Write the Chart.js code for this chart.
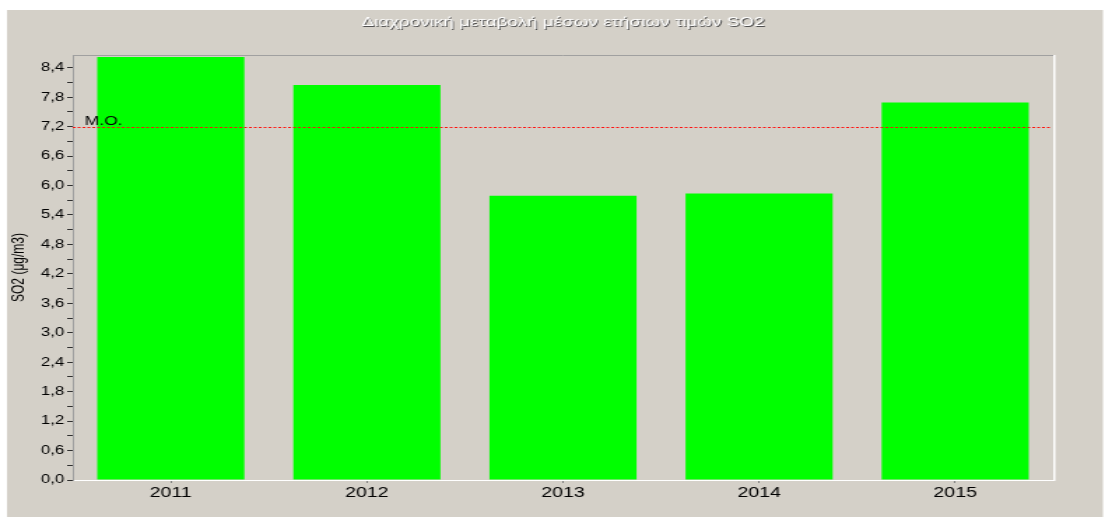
<!DOCTYPE html>
<html>
<head>
<meta charset="utf-8">
<title>SO2</title>
<script src="https://cdn.jsdelivr.net/npm/chart.js@4.4.0/dist/chart.umd.min.js"></script>
<style>
  html, body { margin: 0; padding: 0; background: #fff; }
</style>
</head>
<body>
<!-- the source picture is stretched sideways, so the canvas is too -->
<canvas id="chart" width="790" height="517" style="display:block;width:1105px;height:517px"></canvas>
<script>
const years = ['2011', '2012', '2013', '2014', '2015'];
const so2Values = [8.62, 8.05, 5.79, 5.84, 7.69];
const yMin = 0;
const yMax = 8.66;
const yStep = 0.3;       // minor ticks
const yLabelStep = 0.6;  // labelled ticks
const chartTitle = 'Διαχρονική μεταβολή μέσων ετήσιων τιμών SO2';
const yTitle = 'SO2 (μg/m3)';
const meanLabel = 'Μ.Ο.';

const meanValue = so2Values.reduce((a, b) => a + b, 0) / so2Values.length;
const fontFamily = '"Liberation Sans", Arial, sans-serif';

Chart.defaults.font.family = fontFamily;

const onStep = (value, step) => Math.abs(value / step - Math.round(value / step)) < 1e-6;

const panelPlugin = {
  id: 'panel',
  beforeDraw(chart) {
    const ctx = chart.ctx;
    const area = chart.chartArea;
    ctx.save();
    ctx.fillStyle = '#ffffff';
    ctx.fillRect(0, 0, chart.width, chart.height);
    ctx.fillStyle = '#d4d0c8';
    ctx.fillRect(5, 10, chart.width - 6.5, chart.height - 10);

    // embossed title
    const cx = (area.left + area.right) / 2;
    ctx.font = '13.5px ' + fontFamily;
    ctx.textAlign = 'center';
    ctx.textBaseline = 'middle';
    ctx.fillStyle = '#505050';
    ctx.fillText(chartTitle, cx + 0.8, 23);
    ctx.fillStyle = '#ffffff';
    ctx.fillText(chartTitle, cx, 22);
    ctx.restore();
  },
  afterDatasetsDraw(chart) {
    const ctx = chart.ctx;
    const area = chart.chartArea;
    const y = Math.round(chart.scales.y.getPixelForValue(meanValue)) + 0.5;
    ctx.save();
    ctx.strokeStyle = '#ff1010';
    ctx.lineWidth = 1;
    ctx.setLineDash([2, 1.5]);
    ctx.beginPath();
    ctx.moveTo(area.left, y);
    ctx.lineTo(area.right - 2, y);
    ctx.stroke();
    ctx.setLineDash([]);
    ctx.font = '12.5px ' + fontFamily;
    ctx.fillStyle = '#000';
    ctx.textAlign = 'left';
    ctx.textBaseline = 'alphabetic';
    ctx.fillText(meanLabel, area.left + 8.5, y - 3);

    // sunken frame: grey top, white right
    ctx.strokeStyle = '#a0a0a0';
    ctx.lineWidth = 1;
    ctx.beginPath();
    ctx.moveTo(area.left, area.top + 0.5);
    ctx.lineTo(area.right, area.top + 0.5);
    ctx.stroke();
    ctx.strokeStyle = '#ffffff';
    ctx.lineWidth = 1.5;
    ctx.beginPath();
    ctx.moveTo(area.right + 0.75, area.top);
    ctx.lineTo(area.right + 0.75, area.bottom + 1);
    ctx.stroke();
    ctx.restore();
  }
};

new Chart(document.getElementById('chart'), {
  type: 'bar',
  data: {
    labels: years,
    datasets: [{
      label: 'SO2',
      data: so2Values,
      backgroundColor: '#00ff00',
      borderWidth: 0,
      barPercentage: 0.75,
      categoryPercentage: 1
    }]
  },
  options: {
    responsive: false,
    devicePixelRatio: 1,
    animation: false,
    layout: { padding: { top: 55, right: 37, bottom: 0, left: 0 } },
    plugins: {
      legend: { display: false },
      tooltip: { enabled: false },
      title: { display: false }
    },
    scales: {
      x: {
        grid: { drawOnChartArea: false, offset: false, tickLength: 3, tickColor: '#808080' },
        border: { color: '#ffffff', width: 1 },
        ticks: { color: '#000', font: { size: 14 }, padding: 2, maxRotation: 0 },
        afterFit: (axis) => { axis.height = 37; }
      },
      y: {
        min: yMin,
        max: yMax,
        bounds: 'data',
        grid: { drawOnChartArea: false, tickLength: 4, tickColor: '#303030' },
        border: { color: '#a0a0a0', width: 1 },
        ticks: {
          stepSize: yStep,
          includeBounds: false,
          autoSkip: false,
          color: '#000',
          font: { size: 12 },
          padding: 2,
          callback: (value) => onStep(value, yLabelStep) ? value.toFixed(1).replace('.', ',') : ''
        },
        afterBuildTicks: (axis) => {
          axis.ticks = axis.ticks.filter(t => onStep(t.value, yStep));
        },
        title: {
          display: true,
          text: yTitle,
          color: '#000',
          font: { size: 12 },
          padding: { top: 6, bottom: 0 }
        },
        afterFit: (axis) => { axis.width = 52; }
      }
    }
  },
  plugins: [panelPlugin]
});
</script>
</body>
</html>
